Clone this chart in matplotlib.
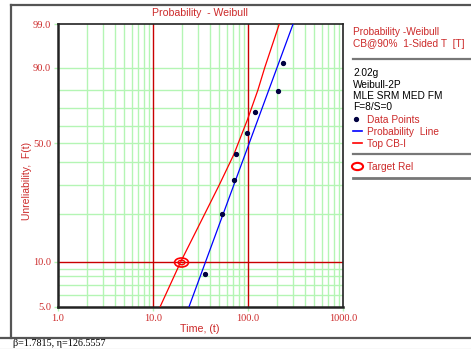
import numpy as np
import matplotlib
matplotlib.use("Agg")
import matplotlib.pyplot as plt
from matplotlib.lines import Line2D
from matplotlib.path import Path
from matplotlib.transforms import Affine2D

# Weibull-2P fit shown in the status bar
beta = 1.7815
eta = 126.5557

# data points (time, median rank %)
times = [35.3, 52.9, 71.2, 74.8, 96.9, 118.5, 205.0, 231.8]
unrel = [8.3, 20.2, 32.1, 44.0, 56.0, 67.9, 79.8, 91.7]

# top confidence bound (one-sided 90%)
cb_unrel = [5, 10, 20, 30, 44, 63.3, 80, 90, 99]
cb_times = [11.85, 19.6, 34.8, 49.8, 71.0, 98.4, 127.0, 150.0, 213.5]

# target reliability point
target_t = 19.6
target_f = 10.0

x_ticks = [1, 10, 100, 1000]
x_labels = ["1.0", "10.0", "100.0", "1000.0"]
y_ticks = [5, 10, 50, 90, 99]
y_labels = ["5.0", "10.0", "50.0", "90.0", "99.0"]
x_grid = [2, 3, 4, 5, 6, 7, 8, 9, 20, 30, 40, 50, 60, 70, 80, 90,
          200, 300, 400, 500, 600, 700, 800, 900]
y_grid = [6, 7, 8, 9, 20, 30, 40, 50, 60, 70, 80, 90]

legend_info = ["2.02g", "Weibull-2P", "MLE SRM MED FM", "F=8/S=0"]

W, H = 471, 349
RED_TXT = "#cc2a2a"
DARK_RED = "#c80000"
GREEN = "#b4f5b4"
FRAME = "#555555"


def fx(x):
    return x / W


def fy(y):
    return 1 - y / H


def fwd(f):
    f = np.clip(np.asarray(f, dtype=float), 1e-6, 100 - 1e-6)
    return np.log(-np.log(1 - f / 100.0))


def inv(w):
    return 100.0 * (1 - np.exp(-np.exp(np.asarray(w, dtype=float))))


fig = plt.figure(figsize=(W / 100, H / 100), dpi=100)
ax = fig.add_axes([fx(58), fy(307), fx(343 - 58), (307 - 24) / H])
ax.set_xscale("log")
ax.set_yscale("function", functions=(fwd, inv))
ax.set_xlim(1, 1000)
ax.set_ylim(5, 99)

for g in x_grid:
    ax.axvline(g, color=GREEN, lw=1.0, zorder=1)
for g in y_grid:
    ax.axhline(g, color=GREEN, lw=1.0, zorder=1)
ax.axvline(10, color=DARK_RED, lw=1.0, zorder=2)
ax.axvline(100, color=DARK_RED, lw=1.0, zorder=2)
ax.axhline(target_f, color=DARK_RED, lw=1.0, zorder=2)

# probability line from the fitted parameters
f_line = np.array([5.0, 99.0])
t_line = eta * (-np.log(1 - f_line / 100.0)) ** (1.0 / beta)
ax.plot(t_line, f_line, color="#0000ff", lw=0.9, zorder=3)
ax.plot(cb_times, cb_unrel, color="#ff0000", lw=0.9, zorder=3)
ax.plot(times, unrel, "o", color="#000040", ms=2.8, zorder=4)

ell = Path.unit_circle().transformed(Affine2D().scale(1, 0.65))
ax.plot([target_t], [target_f], marker=ell, ms=10, mfc="none", mec="#ff0000", mew=1.2, zorder=5)
ax.plot([target_t], [target_f], marker=ell, ms=5, mfc="none", mec="#ff0000", mew=1.0, zorder=5)

ax.set_xticks(x_ticks)
ax.set_xticklabels(x_labels)
ax.set_yticks(y_ticks)
ax.set_yticklabels(y_labels)
ax.xaxis.set_minor_locator(matplotlib.ticker.NullLocator())
ax.yaxis.set_minor_locator(matplotlib.ticker.NullLocator())
for lab in ax.get_xticklabels() + ax.get_yticklabels():
    lab.set_fontfamily("Liberation Serif")
    lab.set_fontsize(7.5)
    lab.set_color(RED_TXT)
ax.tick_params(axis="both", length=3, width=1, color=GREEN, pad=2)
for s in ax.spines.values():
    s.set_color("#222222")
    s.set_linewidth(1.2)
ax.spines["left"].set_linewidth(1.8)
ax.spines["bottom"].set_linewidth(1.8)

fig.text(fx(200), fy(12.5), "Probability  - Weibull", color=RED_TXT, fontsize=7.6,
         family="Liberation Sans", ha="center", va="center")
fig.text(fx(200), fy(329), "Time, (t)", color=RED_TXT, fontsize=7.7,
         family="Liberation Sans", ha="center", va="center")
fig.text(fx(27), fy(181), "Unreliability,  F(t)", color=RED_TXT, fontsize=7.5,
         family="Liberation Sans", ha="center", va="center", rotation=90)

# outer frame and status bar
fig.add_artist(Line2D([fx(11), 1], [fy(5), fy(5)], color=FRAME, lw=1.6))
fig.add_artist(Line2D([fx(11), fx(11)], [fy(5), fy(338)], color=FRAME, lw=1.6))
fig.add_artist(Line2D([0, 1], [fy(338), fy(338)], color=FRAME, lw=1.6))
fig.add_artist(Line2D([0, 1], [fy(348.5), fy(348.5)], color="#dddddd", lw=1.0))
fig.text(fx(13), fy(344), "β=1.7815, η=126.5557", color="black", fontsize=7.3,
         family="Liberation Serif", ha="left", va="center")

# legend panel
lx = 353
fig.text(fx(lx), fy(32), "Probability -Weibull", color=RED_TXT, fontsize=7.3,
         family="Liberation Sans", ha="left", va="center")
fig.text(fx(lx), fy(43.7), "CB@90%  1-Sided T  [T]", color=RED_TXT, fontsize=7.3,
         family="Liberation Sans", ha="left", va="center")
fig.add_artist(Line2D([fx(lx), 1], [fy(59.3), fy(59.3)], color="#777777", lw=1.6))
for i, txt in enumerate(legend_info):
    fig.text(fx(lx), fy(73.3 + i * 11.4), txt, color="black", fontsize=7.3,
             family="Liberation Sans", ha="left", va="center")
fig.add_artist(Line2D([fx(356)], [fy(119)], marker="o", color="#000040", ms=2.8))
fig.text(fx(367), fy(120), "Data Points", color=RED_TXT, fontsize=7.3,
         family="Liberation Sans", ha="left", va="center")
fig.add_artist(Line2D([fx(353), fx(362)], [fy(131), fy(131)], color="#0000ff", lw=1.2))
fig.text(fx(367), fy(131.7), "Probability  Line", color=RED_TXT, fontsize=7.3,
         family="Liberation Sans", ha="left", va="center")
fig.add_artist(Line2D([fx(353), fx(362)], [fy(143.5), fy(143.5)], color="#ff0000", lw=1.2))
fig.text(fx(367), fy(144), "Top CB-I", color=RED_TXT, fontsize=7.3,
         family="Liberation Sans", ha="left", va="center")
fig.add_artist(Line2D([fx(lx), 1], [fy(154.3), fy(154.3)], color="#777777", lw=1.6))
fig.add_artist(Line2D([fx(357)], [fy(165.7)], marker=ell, ms=8, mfc="none",
                      mec="#ff0000", mew=1.5))
fig.text(fx(367), fy(167), "Target Rel", color=RED_TXT, fontsize=7.3,
         family="Liberation Sans", ha="left", va="center")
fig.add_artist(Line2D([fx(lx), 1], [fy(178.3), fy(178.3)], color="#777777", lw=2.0))

fig.savefig("out.png", dpi=100)
